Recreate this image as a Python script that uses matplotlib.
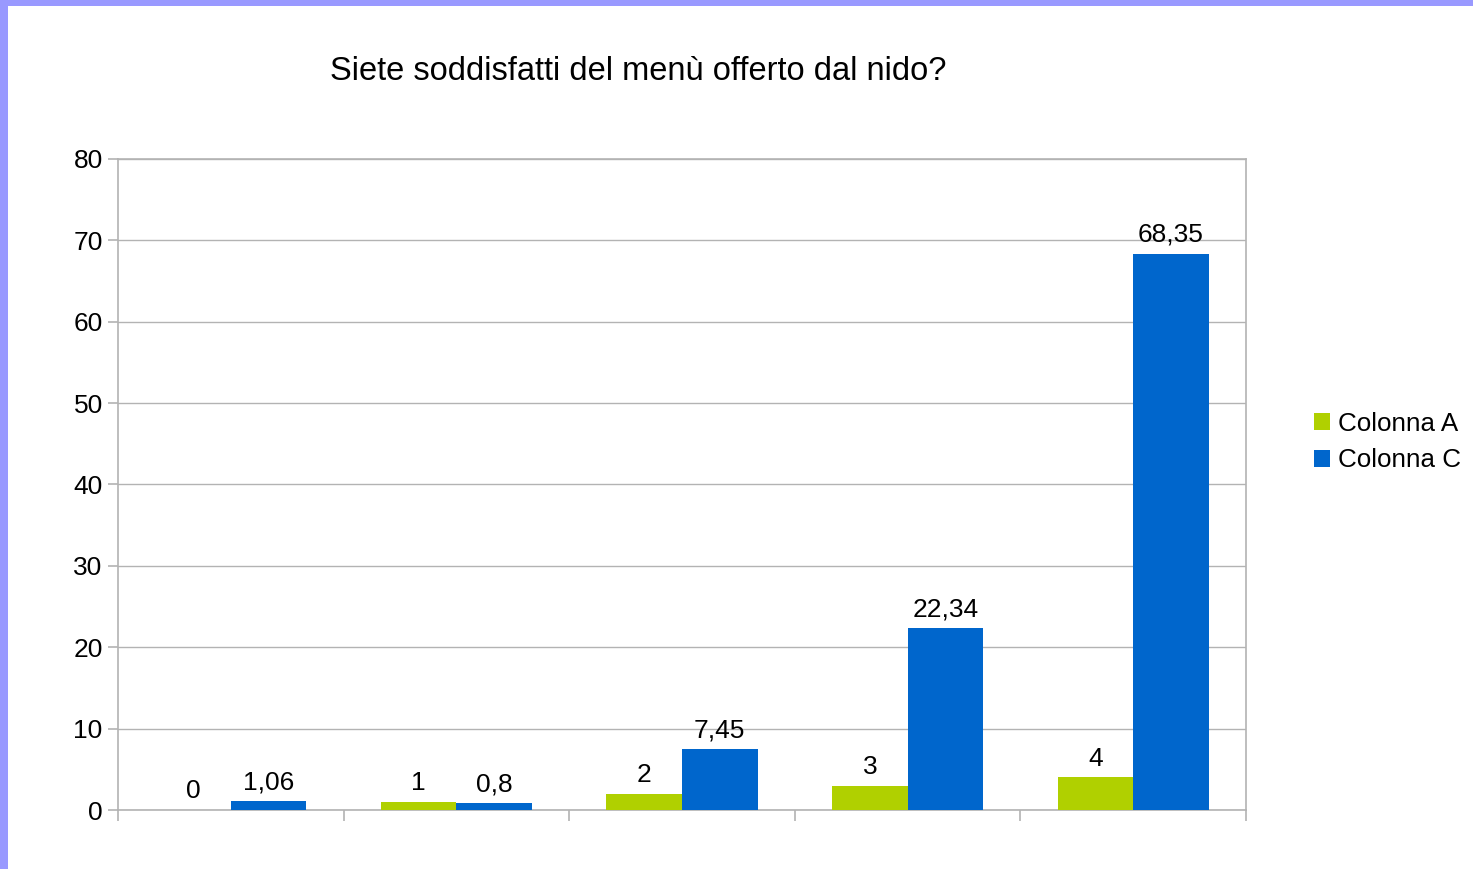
import matplotlib
matplotlib.use("Agg")
import matplotlib.pyplot as plt
import numpy as np
from matplotlib.patches import Rectangle

plt.rcParams['font.family'] = ['Liberation Sans', 'DejaVu Sans']

categories = ["1", "2", "3", "4", "5"]
col_a = [0, 1, 2, 3, 4]
col_c = [1.06, 0.8, 7.45, 22.34, 68.35]
series_names = ["Colonna A", "Colonna C"]
colors = ["#b0d000", "#0066cc"]
yticks = [0, 10, 20, 30, 40, 50, 60, 70, 80]

W, H = 1473, 869
fig = plt.figure(figsize=(W / 100, H / 100), dpi=100)
fig.patch.set_facecolor("white")

# purple frame (top and left)
fig.add_artist(Rectangle((0, 1 - 6 / H), 1, 6 / H, transform=fig.transFigure,
                         facecolor="#9999ff", edgecolor="none"))
fig.add_artist(Rectangle((0, 0), 8 / W, 1, transform=fig.transFigure,
                         facecolor="#9999ff", edgecolor="none"))

ax = fig.add_axes([118 / W, (H - 810) / H, (1246 - 118) / W, (810 - 159) / H])

x = np.arange(len(categories))
bw = 0.335
b1 = ax.bar(x - bw / 2, col_a, bw, color=colors[0], label=series_names[0], zorder=3)
b2 = ax.bar(x + bw / 2, col_c, bw, color=colors[1], label=series_names[1], zorder=3)

def fmt(v):
    s = ("%g" % v).replace(".", ",")
    return s

for bars, vals in ((b1, col_a), (b2, col_c)):
    for rect, v in zip(bars, vals):
        ax.annotate(fmt(v), (rect.get_x() + rect.get_width() / 2, v),
                    xytext=(0, 5), textcoords="offset points",
                    ha="center", va="bottom", fontsize=19, color="#000000")

ax.set_xlim(-0.5, len(categories) - 0.5)
ax.set_ylim(0, 80)
ax.set_yticks(yticks)
ax.set_yticklabels([str(t) for t in yticks], fontsize=19)
ax.set_xticks(np.arange(len(categories) + 1) - 0.5)
ax.set_xticklabels([])
ax.tick_params(axis="y", length=7.2, width=1.2, color="#b3b3b3", pad=3.8)
ax.tick_params(axis="x", length=8, width=1.2, color="#b3b3b3")
ax.yaxis.grid(True, color="#b3b3b3", linewidth=1.0, zorder=0)
ax.set_axisbelow(True)
for s in ax.spines.values():
    s.set_color("#b3b3b3")
    s.set_linewidth(1.2)

fig.text(638 / W, 1 - 72 / H, "Siete soddisfatti del menù offerto dal nido?",
         ha="center", va="center", fontsize=23.5)

leg = fig.legend(handles=[b1, b2], labels=series_names,
                 loc="center left", bbox_to_anchor=(1304 / W, 1 - 442 / H),
                 frameon=False, fontsize=18.7, handlelength=0.6, handleheight=0.6,
                 handletextpad=0.3, labelspacing=0.5, borderaxespad=0)

fig.savefig("out.png", dpi=100)
